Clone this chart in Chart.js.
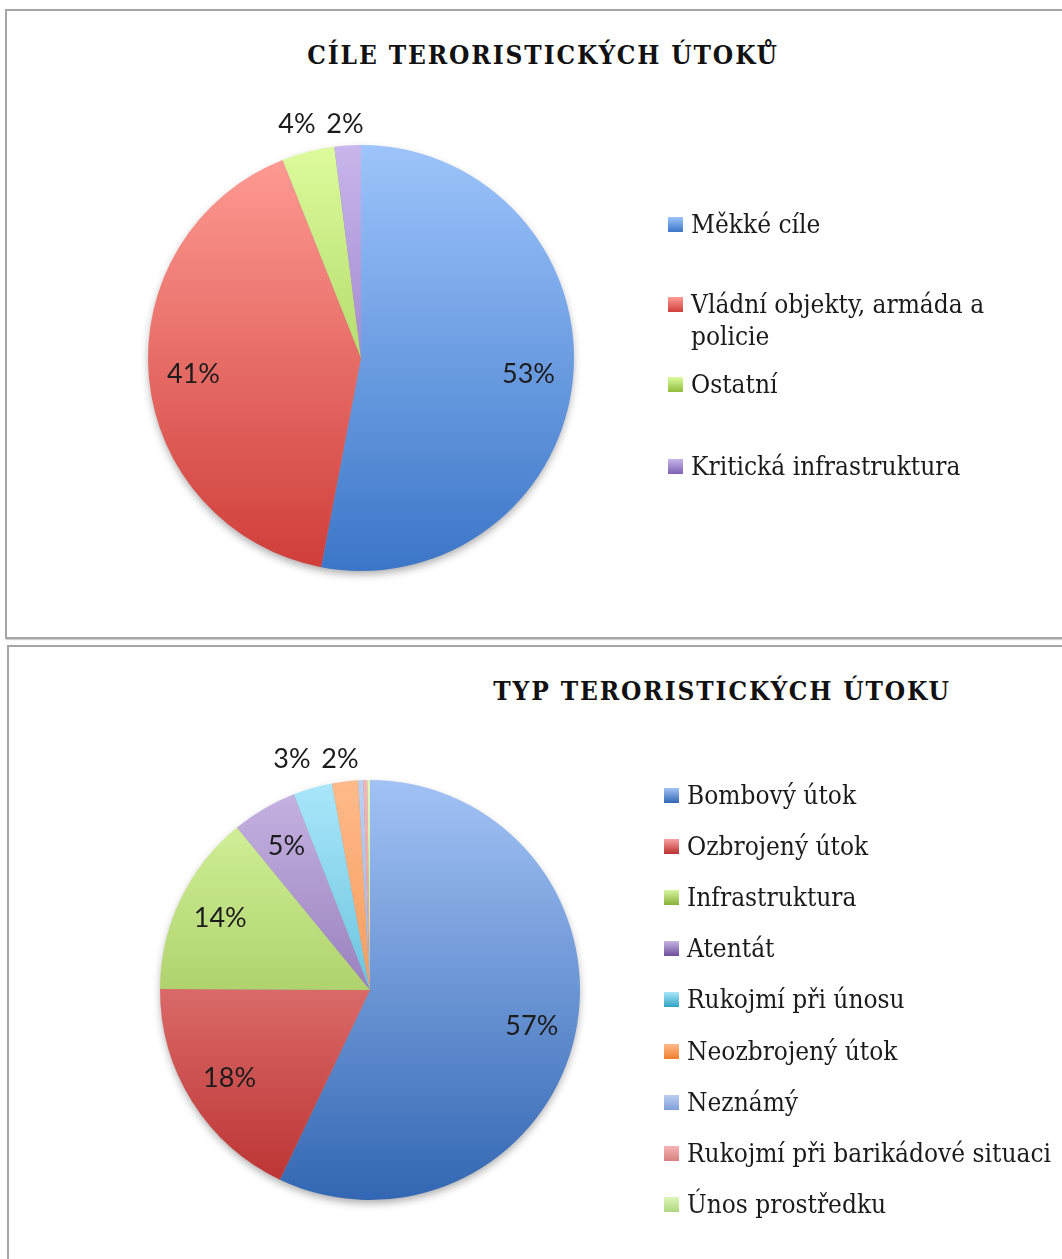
<!DOCTYPE html>
<html lang="cs">
<head>
<meta charset="utf-8">
<script src="https://cdn.jsdelivr.net/npm/chart.js@4.4.1/dist/chart.umd.min.js"></script>
<style>
    body { margin: 0; width: 1062px; height: 1259px; overflow: hidden; background: #fff; position: relative;
           font-family: "DejaVu Serif Condensed", "DejaVu Serif", serif; color: #1a1a1a; }
    .box { position: absolute; border: 2px solid #a5a5a5; box-shadow: 1px 1px 1px #cfcfcf; }
    #box1 { left: 5px; top: 9px; width: 1080px; height: 626px; }
    #box2 { left: 7px; top: 645px; width: 1080px; height: 640px; }
    canvas { position: absolute; }
    .title { position: absolute; font-weight: bold; font-size: 26px; letter-spacing: 1.9px; color: #111;
             white-space: nowrap; transform: translate(-50%, -50%); }
    .item { position: absolute; display: flex; align-items: flex-start; font-size: 26px; line-height: 32px; }
    .swatch { width: 15px; height: 15px; margin-top: 9px; margin-right: 8px; flex: none; }
</style>
</head>
<body>
<div class="box" id="box1"></div>
<div class="box" id="box2"></div>
<div class="title" style="left:543px; top:55px;">CÍLE TERORISTICKÝCH ÚTOKŮ</div>
<div class="title" style="left:722px; top:691px;">TYP TERORISTICKÝCH ÚTOKU</div>
<canvas id="chart1" width="1062" height="637" style="left:0; top:0;"></canvas>
<canvas id="chart2" width="1062" height="619" style="left:0; top:640px;"></canvas>
<div id="legends"></div>

<script>
// --- data ---
const targetLabels = ["Měkké cíle", "Vládní objekty, armáda a policie", "Ostatní", "Kritická infrastruktura"];
const targetValues = [53, 41, 4, 2];

const typeLabels = ["Bombový útok", "Ozbrojený útok", "Infrastruktura", "Atentát", "Rukojmí při únosu",
    "Neozbrojený útok", "Neznámý", "Rukojmí při barikádové situaci", "Únos prostředku"];
const typeValues = [57, 18, 14, 5, 3, 2, 0.4, 0.3, 0.2];

// --- colours (light at top of pie, dark at bottom) ---
const targetLight = ["#9dc4fb", "#ff9d95", "#ddfb9d", "#c8b6ec"];
const targetDark = ["#3c76c8", "#cf3d39", "#8fbd3d", "#7d60b3"];

const typeLight = ["#a2c2f5", "#fba2a2", "#d9f6a2", "#c7b5e3", "#aae7fb", "#ffba8a", "#bccff2", "#f6b4b4", "#def6ba"];
const typeDark = ["#3367b3", "#b9302f", "#86af39", "#6d4d9b", "#2fa2c3", "#ef7f2f", "#7e9ed7", "#d77f7f", "#afd77f"];

function gradientFill(light, dark) {
    return (c) => {
        const area = c.chart.chartArea;
        if (!area) return dark[c.dataIndex];
        const g = c.chart.ctx.createLinearGradient(0, area.top, 0, area.bottom);
        g.addColorStop(0, light[c.dataIndex]);
        g.addColorStop(1, dark[c.dataIndex]);
        return g;
    };
}

// soft shadow under the whole pie
const pieShadow = {
    id: 'pieShadow',
    beforeDatasetsDraw(chart) {
        const arc = chart.getDatasetMeta(0).data[0];
        if (!arc) return;
        const p = arc.getProps(['x', 'y', 'outerRadius'], true);
        const ctx = chart.ctx;
        ctx.save();
        ctx.shadowColor = 'rgba(0,0,0,0.35)';
        ctx.shadowBlur = 9;
        ctx.shadowOffsetY = 4;
        ctx.fillStyle = '#999';
        ctx.beginPath();
        ctx.arc(p.x, p.y, p.outerRadius - 1, 0, Math.PI * 2);
        ctx.fill();
        ctx.restore();
    }
};

// percentage labels (inside for big slices, above the pie for small ones)
const pctLabels = {
    id: 'pctLabels',
    afterDatasetsDraw(chart) {
        const ctx = chart.ctx;
        const values = chart.data.datasets[0].data;
        const total = values.reduce((s, v) => s + v, 0);
        const outside = [];
        ctx.save();
        ctx.font = '27px Lato, "Open Sans", sans-serif';
        ctx.fillStyle = '#1c1c1c';
        ctx.textAlign = 'center';
        ctx.textBaseline = 'middle';
        chart.getDatasetMeta(0).data.forEach((arc, i) => {
            const pct = Math.round(values[i] / total * 100);
            if (pct < 1) return;
            const p = arc.getProps(['x', 'y', 'startAngle', 'endAngle', 'outerRadius'], true);
            const mid = (p.startAngle + p.endAngle) / 2;
            if (pct < 5) {
                outside.push({ text: pct + '%', x: p.x + Math.cos(mid) * p.outerRadius * 1.2, y: p.y - p.outerRadius - 21 });
            } else {
                ctx.fillText(pct + '%', p.x + Math.cos(mid) * p.outerRadius * 0.79, p.y + Math.sin(mid) * p.outerRadius * 0.79);
            }
        });
        // keep the small-slice labels apart, pushing earlier ones to the left
        for (let k = outside.length - 2; k >= 0; k--) {
            if (outside[k + 1].x - outside[k].x < 48) outside[k].x = outside[k + 1].x - 48;
        }
        outside.forEach(l => ctx.fillText(l.text, l.x, l.y));
        ctx.restore();
    }
};

function makePie(id, labels, values, light, dark, padding) {
    return new Chart(document.getElementById(id).getContext('2d'), {
        type: 'pie',
        data: {
            labels: labels,
            datasets: [{
                data: values,
                backgroundColor: gradientFill(light, dark),
                borderWidth: 0
            }]
        },
        options: {
            responsive: false,
            animation: false,
            layout: { padding: padding },
            plugins: {
                legend: { display: false },
                tooltip: { enabled: false }
            }
        },
        plugins: [pieShadow, pctLabels]
    });
}

makePie('chart1', targetLabels, targetValues, targetLight, targetDark,
    { left: 148, right: 488, top: 145, bottom: 66 });
makePie('chart2', typeLabels, typeValues, typeLight, typeDark,
    { left: 160, right: 482, top: 140, bottom: 59 });

// --- legends built from the same arrays ---
function addLegend(labels, light, dark, left, tops, textWidth) {
    const host = document.getElementById('legends');
    labels.forEach((name, i) => {
        const item = document.createElement('div');
        item.className = 'item';
        item.style.left = left + 'px';
        item.style.top = tops[i] + 'px';
        const sw = document.createElement('div');
        sw.className = 'swatch';
        sw.style.background = 'linear-gradient(' + light[i] + ', ' + dark[i] + ')';
        const txt = document.createElement('span');
        txt.style.width = textWidth + 'px';
        txt.textContent = name;
        item.appendChild(sw);
        item.appendChild(txt);
        host.appendChild(item);
    });
}

addLegend(targetLabels, targetLight, targetDark, 668, [208, 288, 368, 450], 310);
addLegend(typeLabels, typeLight, typeDark, 664, typeLabels.map((_, i) => 779 + i * 51.1), 385);
</script>
</body>
</html>
